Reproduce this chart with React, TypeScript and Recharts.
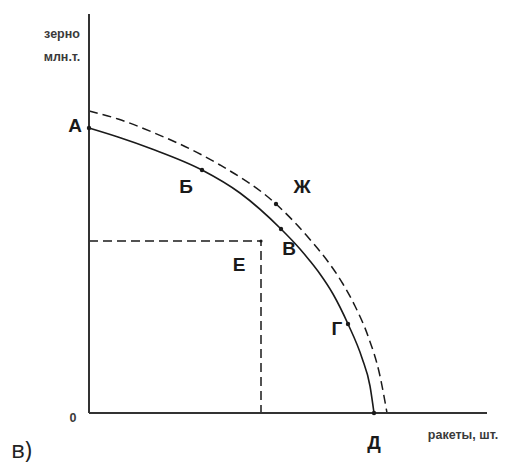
import React from "react";
import { ComposedChart, Line, Scatter, XAxis, YAxis } from "recharts";

// производственные возможности: зерно (млн.т.) против ракет (шт.)
const solidCurve = [
  { x: 0, y: 285 },
  { x: 29, y: 276 },
  { x: 63, y: 264 },
  { x: 113, y: 243 },
  { x: 151, y: 220 },
  { x: 192, y: 184 },
  { x: 211, y: 164 },
  { x: 221, y: 152 },
  { x: 231, y: 139 },
  { x: 244, y: 119 },
  { x: 259, y: 89 },
  { x: 273, y: 55 },
  { x: 281, y: 27 },
  { x: 285, y: 0 },
];

const dashedCurve = [
  { x: 0, y: 302 },
  { x: 29, y: 294 },
  { x: 63, y: 281 },
  { x: 113, y: 258 },
  { x: 131, y: 248 },
  { x: 187, y: 209 },
  { x: 224, y: 170 },
  { x: 240, y: 150 },
  { x: 254, y: 129 },
  { x: 266, y: 107 },
  { x: 279, y: 77 },
  { x: 291, y: 37 },
  { x: 298, y: 0 },
];

const pointE = [
  { x: 0, y: 172 },
  { x: 172, y: 172 },
  { x: 172, y: 0 },
];

const points = [
  { name: "А", x: 0, y: 285 },
  { name: "Б", x: 113, y: 243 },
  { name: "В", x: 192, y: 184 },
  { name: "Г", x: 259, y: 89 },
  { name: "Д", x: 285, y: 0 },
  { name: "Ж", x: 187, y: 209 },
  { name: "Е", x: 172, y: 172 },
];

const yTitle = ["зерно", "млн.т."];
const xTitle = "ракеты, шт.";

// сдвиг подписи от точки, px
const labelShift: Record<string, [number, number]> = {
  А: [-14, -3],
  Б: [-16, 16],
  В: [8, 19],
  Г: [-11, 4],
  Д: [0, 29],
  Ж: [26, -18],
  Е: [-22, 23],
};

const INK = "#1a1a1a";
const small = { fontFamily: "Liberation Sans, Arial, sans-serif", fontSize: 12.5, fontWeight: 700, fill: "#3a3a3a" };

function PointMark(props: any) {
  const { cx, cy, payload } = props;
  const [dx, dy] = labelShift[payload.name] ?? [0, 0];
  return (
    <g>
      <circle cx={cx} cy={cy} r={payload.name === "Е" ? 1.6 : 2.2} fill={INK} />
      <text
        x={cx + dx}
        y={cy + dy}
        textAnchor="middle"
        dominantBaseline="central"
        fontFamily="Liberation Sans, Arial, sans-serif"
        fontSize={19}
        fontWeight={700}
        fill={INK}
      >
        {payload.name}
      </text>
    </g>
  );
}

export default function App() {
  return (
    <div style={{ position: "absolute", left: 0, top: 0, width: 511, height: 464, background: "#fff" }}>
      <ComposedChart width={511} height={464} margin={{ top: 14, right: 24, bottom: 50, left: 88 }}>
        <XAxis
          type="number"
          dataKey="x"
          domain={[0, 398]}
          height={1}
          tick={false}
          tickLine={false}
          axisLine={{ stroke: "#333", strokeWidth: 2 }}
        />
        <YAxis
          type="number"
          dataKey="y"
          domain={[0, 399]}
          width={1}
          tick={false}
          tickLine={false}
          axisLine={{ stroke: "#333", strokeWidth: 2 }}
        />
        <Line
          data={pointE}
          dataKey="y"
          type="linear"
          stroke={INK}
          strokeWidth={1.5}
          strokeDasharray="9 5"
          dot={false}
          activeDot={false}
          isAnimationActive={false}
        />
        <Line
          data={dashedCurve}
          dataKey="y"
          type="monotone"
          stroke={INK}
          strokeWidth={1.5}
          strokeDasharray="9 5"
          dot={false}
          activeDot={false}
          isAnimationActive={false}
        />
        <Line
          data={solidCurve}
          dataKey="y"
          type="monotone"
          stroke={INK}
          strokeWidth={1.6}
          dot={false}
          activeDot={false}
          isAnimationActive={false}
        />
        <Scatter data={points} dataKey="y" shape={PointMark} isAnimationActive={false} />
      </ComposedChart>
      <svg width={511} height={464} style={{ position: "absolute", left: 0, top: 0, pointerEvents: "none" }}>
        <text x={62} y={34} textAnchor="middle" dominantBaseline="central" {...small}>
          {yTitle[0]}
        </text>
        <text x={62} y={57} textAnchor="middle" dominantBaseline="central" {...small}>
          {yTitle[1]}
        </text>
        <text x={73} y={418} textAnchor="middle" dominantBaseline="central" {...small}>
          0
        </text>
        <text x={463} y={435} textAnchor="middle" dominantBaseline="central" {...small}>
          {xTitle}
        </text>
        <text x={11} y={448} dominantBaseline="central" fontFamily="Open Sans, sans-serif" fontSize={24} fill="#222">
          в)
        </text>
      </svg>
    </div>
  );
}
